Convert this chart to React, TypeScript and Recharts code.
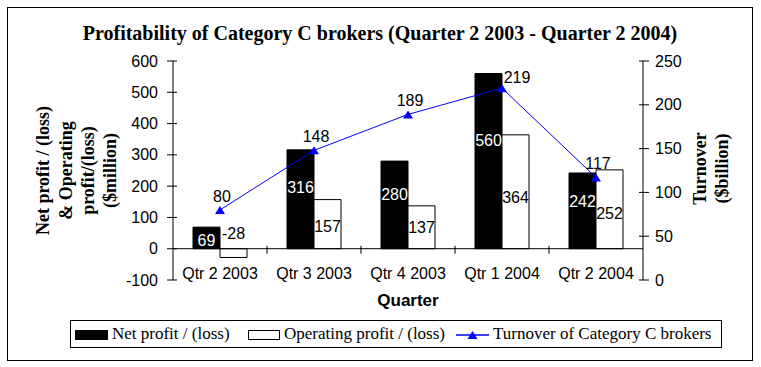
import { ComposedChart, Bar, Line, XAxis, YAxis, LabelList, ReferenceLine, Label } from "recharts"

const quarters = ["Qtr 2 2003", "Qtr 3 2003", "Qtr 4 2003", "Qtr 1 2004", "Qtr 2 2004"]
const netProfit = [69, 316, 280, 560, 242]
const operatingProfit = [-28, 157, 137, 364, 252]
const turnover = [80, 148, 189, 219, 117]
const leftTicks = [-100, 0, 100, 200, 300, 400, 500, 600]
const rightTicks = [0, 50, 100, 150, 200, 250]

const title = "Profitability of Category C brokers (Quarter 2 2003 - Quarter 2 2004)"
const leftTitle = ["Net profit / (loss)", "& Operating", "profit/(loss)", "($million)"]
const rightTitle = ["Turnover", "($billion)"]
const seriesNames = ["Net profit / (loss)", "Operating profit / (loss)", "Turnover of Category C brokers"]

const data = quarters.map((q, i) => ({
  quarter: q,
  net: netProfit[i],
  operating: operatingProfit[i],
  turnover: turnover[i],
}))

const SANS = '"Liberation Sans", Arial, sans-serif'
const SERIF = '"Liberation Serif", "Times New Roman", serif'
const BLUE = "#0000ff"

function LeftTick({ x, y, payload }: any) {
  return (
    <g>
      <line x1={x - 6} x2={x + 4} y1={y} y2={y} stroke="#000" />
      <text x={x - 15} y={y} dy="0.35em" textAnchor="end" fontFamily={SANS} fontSize={16} fill="#000">
        {payload.value}
      </text>
    </g>
  )
}

function RightTick({ x, y, payload }: any) {
  return (
    <g>
      <line x1={x - 4} x2={x + 6} y1={y} y2={y} stroke="#000" />
      <text x={x + 12} y={y} dy="0.35em" textAnchor="start" fontFamily={SANS} fontSize={16} fill="#000">
        {payload.value}
      </text>
    </g>
  )
}

function QuarterTick({ x, y, payload }: any) {
  return (
    <text x={x} y={y - 7} dy="0.35em" textAnchor="middle" fontFamily={SANS} fontSize={16} fill="#000">
      {payload.value}
    </text>
  )
}

// zero line with cross ticks at the category boundaries
function ZeroAxis(props: any) {
  const { x1, x2, y1 } = props
  const n = quarters.length
  const ticks = []
  for (let i = 1; i < n; i++) {
    const tx = x1 + ((x2 - x1) * i) / n
    ticks.push(<line key={i} x1={tx} x2={tx} y1={y1 - 3} y2={y1 + 5} stroke="#000" />)
  }
  return (
    <g>
      <line x1={x1} x2={x2} y1={y1} y2={y1} stroke="#000" />
      {ticks}
    </g>
  )
}

function Triangle({ cx, cy }: any) {
  if (cx == null || cy == null) return null
  return <path d={`M${cx},${cy - 4} L${cx + 5},${cy + 4} L${cx - 5},${cy + 4} Z`} fill={BLUE} />
}

function NetLabel(props: any) {
  const vb = props.viewBox || props
  const { x, y, width, height } = vb
  const top = Math.min(y, y + height)
  const h = Math.abs(height)
  const zero = top + h
  const cy = zero - Math.min(0.62 * h, h - 13)
  return (
    <text x={x + width / 2} y={cy} dy="0.35em" textAnchor="middle" fontFamily={SANS} fontSize={16} fill="#fff">
      {props.value}
    </text>
  )
}

function OperatingLabel(props: any) {
  const vb = props.viewBox || props
  const { x, y, width, height } = vb
  const top = Math.min(y, y + height)
  const h = Math.abs(height)
  const cy = props.value < 0 ? top - 15 : top + h - Math.max(0.45 * h, 21)
  return (
    <text x={x + width / 2} y={cy} dy="0.35em" textAnchor="middle" fontFamily={SANS} fontSize={16} fill="#000">
      {props.value}
    </text>
  )
}

function TurnoverLabel(props: any) {
  const vb = props.viewBox || props
  // the peak label sits to the right so it clears the tall bar
  const peak = props.value === Math.max(...turnover)
  return (
    <text x={vb.x + (peak ? 15 : 2)} y={vb.y - (peak ? 11 : 14)} dy="0.35em" textAnchor="middle"
      fontFamily={SANS} fontSize={16} fill="#000">
      {props.value}
    </text>
  )
}

function LeftTitle({ viewBox }: any) {
  const cy = viewBox.y + viewBox.height / 2
  return (
    <g>
      {leftTitle.map((t, i) => {
        const lx = viewBox.x - 70 + i * 22.3
        return (
          <text key={i} x={lx} y={cy} dy="0.35em" textAnchor="middle" transform={`rotate(-90 ${lx} ${cy})`}
            fontFamily={SERIF} fontWeight="bold" fontSize={18} fill="#000">
            {t}
          </text>
        )
      })}
    </g>
  )
}

function RightTitle({ viewBox }: any) {
  const cy = viewBox.y + viewBox.height / 2 - 2
  return (
    <g>
      {rightTitle.map((t, i) => {
        const lx = viewBox.x + 57 + i * 22
        return (
          <text key={i} x={lx} y={cy} dy="0.35em" textAnchor="middle" transform={`rotate(-90 ${lx} ${cy})`}
            fontFamily={SERIF} fontWeight="bold" fontSize={18} fill="#000">
            {t}
          </text>
        )
      })}
    </g>
  )
}

function QuarterTitle({ viewBox }: any) {
  return (
    <text x={viewBox.x + viewBox.width / 2} y={viewBox.y + 20} dy="0.35em" textAnchor="middle"
      fontFamily={SANS} fontWeight="bold" fontSize={17} fill="#000">
      Quarter
    </text>
  )
}

function LegendBox() {
  const swatch = { position: "absolute" as const, top: 9, width: 33, height: 10, boxSizing: "border-box" as const }
  const label = { position: "absolute" as const, top: 0, lineHeight: "26px" }
  return (
    <div style={{
      position: "absolute", left: 62, top: 312, width: 652, height: 28, boxSizing: "border-box",
      border: "1px solid #000", fontFamily: SERIF, fontSize: 17, color: "#000", whiteSpace: "nowrap",
    }}>
      <div style={{ ...swatch, left: 4, background: "#000" }} />
      <span style={{ ...label, left: 41 }}>{seriesNames[0]}</span>
      <div style={{ ...swatch, left: 177, width: 32, background: "#fff", border: "1px solid #000" }} />
      <span style={{ ...label, left: 213 }}>{seriesNames[1]}</span>
      <svg width={33} height={12} style={{ position: "absolute", left: 385, top: 8 }}>
        <line x1={0} x2={33} y1={6} y2={6} stroke={BLUE} strokeWidth={1.5} />
        <path d="M16.5,2 L21.5,10 L11.5,10 Z" fill={BLUE} />
      </svg>
      <span style={{ ...label, left: 422 }}>{seriesNames[2]}</span>
    </div>
  )
}

export default function App() {
  return (
    <div style={{
      position: "absolute", left: 7, top: 7, width: 746, height: 354, boxSizing: "border-box",
      border: "1px solid #000", background: "#fff",
    }}>
      <div style={{
        position: "absolute", left: 0, top: 14, width: 744, lineHeight: "22px", textAlign: "center",
        fontFamily: SERIF, fontWeight: "bold", fontSize: 20, color: "#000", whiteSpace: "nowrap",
      }}>
        {title}
      </div>
      <div style={{ position: "absolute", left: 0, top: 0 }}>
        <ComposedChart width={744} height={352} data={data} barGap={0} barSize={27}
          margin={{ top: 53, right: 49, bottom: 50, left: 105 }}>
          <XAxis dataKey="quarter" axisLine={false} tickLine={false} tickSize={0} tickMargin={0}
            height={30} tick={<QuarterTick />} interval={0}>
            <Label content={<QuarterTitle />} />
          </XAxis>
          <YAxis yAxisId="left" orientation="left" domain={[-100, 600]} ticks={leftTicks} width={60}
            axisLine={{ stroke: "#000" }} tickLine={false} tickSize={0} tickMargin={0} tick={<LeftTick />}
            interval={0}>
            <Label content={<LeftTitle />} />
          </YAxis>
          <YAxis yAxisId="right" orientation="right" domain={[0, 250]} ticks={rightTicks} width={60}
            axisLine={{ stroke: "#000" }} tickLine={false} tickSize={0} tickMargin={0} tick={<RightTick />}
            interval={0}>
            <Label content={<RightTitle />} />
          </YAxis>
          <Bar yAxisId="left" dataKey="net" name={seriesNames[0]} fill="#000" stroke="#000" isAnimationActive={false}>
            <LabelList dataKey="net" content={<NetLabel />} />
          </Bar>
          <Bar yAxisId="left" dataKey="operating" name={seriesNames[1]} fill="#fff" stroke="#000"
            strokeWidth={1} isAnimationActive={false}>
            <LabelList dataKey="operating" content={<OperatingLabel />} />
          </Bar>
          <ReferenceLine yAxisId="left" y={0} shape={<ZeroAxis />} />
          <Line yAxisId="right" dataKey="turnover" name={seriesNames[2]} stroke={BLUE} strokeWidth={1}
            dot={<Triangle />} activeDot={false} isAnimationActive={false}>
            <LabelList dataKey="turnover" content={<TurnoverLabel />} />
          </Line>
        </ComposedChart>
      </div>
      <LegendBox />
    </div>
  )
}
